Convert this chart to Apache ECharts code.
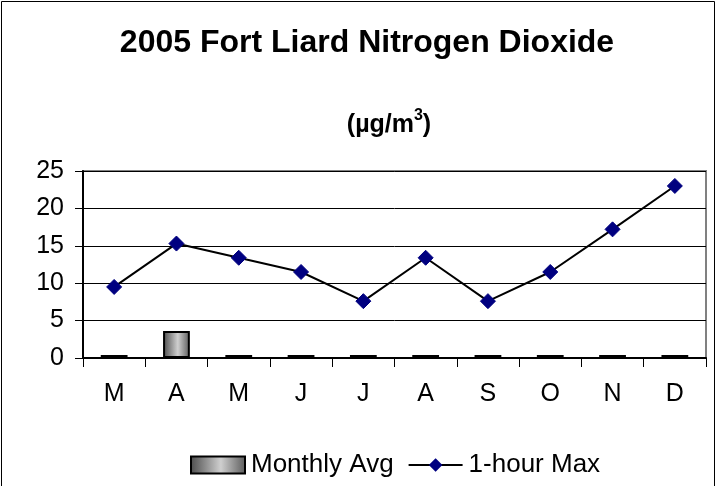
<!DOCTYPE html>
<html><head><meta charset="utf-8">
<script src="https://cdn.jsdelivr.net/npm/echarts@6/dist/echarts.min.js"></script>
<style>html,body{margin:0;padding:0;background:#fff}#c{width:717px;height:486px}</style>
</head><body><div id="c"></div>
<script>
const categories = ['M','A','M','J','J','A','S','O','N','D'];
const monthlyAvg = [0, 3.6, 0, 0, 0, 0, 0, 0, 0, 0];
const hourMax = [9.5, 15.3, 13.4, 11.5, 7.6, 13.4, 7.6, 11.5, 17.2, 23.0];
const yTicks = {min: 0, max: 25, interval: 5};

const font = '"Liberation Sans", Arial, sans-serif';
const barGrad = new echarts.graphic.LinearGradient(0, 0, 1, 0, [
  {offset: 0, color: '#4a4a4a'},
  {offset: 0.55, color: '#cfcfcf'},
  {offset: 1, color: '#5a5a5a'}
]);
const chart = echarts.init(document.getElementById('c'), null, {renderer: 'canvas'});
chart.setOption({
  animation: false,
  backgroundColor: '#fff',
  textStyle: {fontFamily: font, color: '#000'},
  title: [{
    text: '2005 Fort Liard Nitrogen Dioxide',
    left: 367, top: 27, textAlign: 'center', padding: 0,
    textStyle: {fontFamily: font, fontSize: 32, fontWeight: 'bold', color: '#000'}
  }, {
    text: '{a|(µg/m}{s|3}{a|)}',
    left: 389, top: 108, textAlign: 'center', padding: 0,
    textStyle: {
      rich: {
        a: {fontFamily: font, fontSize: 25, fontWeight: 'bold', color: '#000', verticalAlign: 'bottom', lineHeight: 30},
        s: {fontFamily: font, fontSize: 16, fontWeight: 'bold', color: '#000', verticalAlign: 'top', lineHeight: 30, padding: [0, 0, 12, 0]}
      }
    }
  }],
  graphic: [{
    type: 'rect', shape: {x: 1.5, y: 1.5, width: 713, height: 500},
    style: {fill: 'none', stroke: '#000', lineWidth: 1}, silent: true, z: 100
  }],
  legend: {
    top: 452, left: 190, padding: 0,
    itemGap: 14, itemWidth: 54, itemHeight: 17,
    textStyle: {fontFamily: font, fontSize: 26, color: '#000', padding: [0, 0, 0, 1]},
    data: [
      {name: 'Monthly Avg', icon: 'rect'},
      {name: '1-hour Max'}
    ]
  },
  grid: {left: 83, right: 11, top: 171, bottom: 128, show: true, borderColor: '#808080', borderWidth: 2, backgroundColor: 'transparent'},
  xAxis: {
    type: 'category', data: categories,
    axisLine: {lineStyle: {color: '#000', width: 2}},
    axisTick: {show: true, length: 9, lineStyle: {color: '#000', width: 1}},
    axisLabel: {fontFamily: font, fontSize: 25, color: '#000', margin: 24},
    splitLine: {show: false}
  },
  yAxis: {
    type: 'value', min: yTicks.min, max: yTicks.max, interval: yTicks.interval,
    axisLine: {show: true, lineStyle: {color: '#000', width: 2}},
    axisTick: {show: true, length: 8, lineStyle: {color: '#000'}},
    axisLabel: {fontFamily: font, fontSize: 25, color: '#000', margin: 19},
    splitLine: {show: true, lineStyle: {color: '#000', width: 1}}
  },
  series: [{
    name: 'Monthly Avg', type: 'bar', data: monthlyAvg, barWidth: '43%', barMinHeight: 3,
    itemStyle: {color: barGrad, borderColor: '#000', borderWidth: 2},
    z: 3
  }, {
    name: '1-hour Max', type: 'line', data: hourMax,
    symbol: 'diamond', symbolSize: 15,
    lineStyle: {color: '#000', width: 2},
    itemStyle: {color: '#000080', borderColor: '#000080'},
    z: 4
  }]
});
</script></body></html>
